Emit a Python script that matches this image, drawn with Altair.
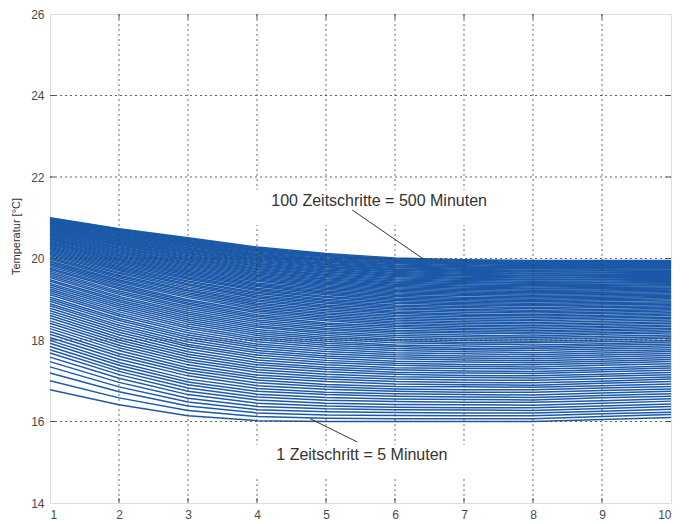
import altair as alt
import pandas as pd

# Node positions along the x axis and the simulated time steps (1 step = 5 min)
positions = [1, 2, 3, 4, 5, 6, 7, 8, 9, 10]
steps = list(range(1, 101))

# Temperature [°C] at each node, one value per time step (step 1 ... step 100)
t_x1 = [16.78, 17.00, 17.19, 17.34, 17.47, 17.58, 17.68, 17.76, 17.84, 17.92,
        17.99, 18.06, 18.14, 18.21, 18.28, 18.34, 18.41, 18.47, 18.54, 18.60,
        18.66, 18.72, 18.78, 18.84, 18.89, 18.95, 19.00, 19.05, 19.11, 19.16,
        19.21, 19.25, 19.30, 19.35, 19.39, 19.44, 19.48, 19.53, 19.57, 19.61,
        19.65, 19.69, 19.73, 19.76, 19.80, 19.84, 19.87, 19.91, 19.94, 19.98,
        20.01, 20.04, 20.07, 20.10, 20.13, 20.16, 20.19, 20.22, 20.25, 20.27,
        20.30, 20.33, 20.35, 20.38, 20.40, 20.42, 20.45, 20.47, 20.49, 20.51,
        20.54, 20.56, 20.58, 20.60, 20.62, 20.64, 20.66, 20.68, 20.69, 20.71,
        20.73, 20.75, 20.76, 20.78, 20.80, 20.81, 20.83, 20.84, 20.86, 20.87,
        20.89, 20.90, 20.91, 20.93, 20.94, 20.95, 20.96, 20.98, 20.99, 21.00]
t_x2 = [16.41, 16.58, 16.73, 16.85, 16.96, 17.06, 17.15, 17.23, 17.30, 17.38,
        17.45, 17.53, 17.60, 17.67, 17.74, 17.81, 17.87, 17.94, 18.00, 18.06,
        18.13, 18.19, 18.25, 18.31, 18.36, 18.42, 18.48, 18.53, 18.59, 18.64,
        18.69, 18.74, 18.79, 18.84, 18.89, 18.94, 18.98, 19.03, 19.07, 19.12,
        19.16, 19.20, 19.25, 19.29, 19.33, 19.37, 19.41, 19.45, 19.48, 19.52,
        19.56, 19.59, 19.63, 19.66, 19.70, 19.73, 19.76, 19.79, 19.82, 19.86,
        19.89, 19.92, 19.95, 19.97, 20.00, 20.03, 20.06, 20.08, 20.11, 20.14,
        20.16, 20.19, 20.21, 20.24, 20.26, 20.28, 20.31, 20.33, 20.35, 20.37,
        20.39, 20.41, 20.43, 20.45, 20.47, 20.49, 20.51, 20.53, 20.55, 20.57,
        20.59, 20.60, 20.62, 20.64, 20.65, 20.67, 20.69, 20.70, 20.72, 20.73]
t_x3 = [16.14, 16.27, 16.38, 16.48, 16.57, 16.66, 16.74, 16.82, 16.90, 16.97,
        17.04, 17.12, 17.19, 17.26, 17.32, 17.39, 17.46, 17.52, 17.59, 17.65,
        17.71, 17.78, 17.84, 17.89, 17.95, 18.01, 18.07, 18.12, 18.18, 18.23,
        18.29, 18.34, 18.39, 18.44, 18.49, 18.54, 18.59, 18.64, 18.68, 18.73,
        18.78, 18.82, 18.87, 18.91, 18.95, 18.99, 19.04, 19.08, 19.12, 19.16,
        19.20, 19.23, 19.27, 19.31, 19.35, 19.38, 19.42, 19.45, 19.49, 19.52,
        19.55, 19.59, 19.62, 19.65, 19.68, 19.71, 19.74, 19.77, 19.80, 19.83,
        19.86, 19.88, 19.91, 19.94, 19.97, 19.99, 20.02, 20.04, 20.07, 20.09,
        20.12, 20.14, 20.16, 20.19, 20.21, 20.23, 20.25, 20.27, 20.30, 20.32,
        20.34, 20.36, 20.38, 20.40, 20.42, 20.43, 20.45, 20.47, 20.49, 20.51]
t_x4 = [16.02, 16.12, 16.21, 16.29, 16.37, 16.45, 16.53, 16.60, 16.67, 16.74,
        16.81, 16.88, 16.95, 17.02, 17.08, 17.14, 17.21, 17.27, 17.33, 17.39,
        17.45, 17.51, 17.57, 17.63, 17.69, 17.74, 17.80, 17.85, 17.90, 17.96,
        18.01, 18.06, 18.11, 18.16, 18.21, 18.26, 18.31, 18.35, 18.40, 18.45,
        18.49, 18.54, 18.58, 18.62, 18.67, 18.71, 18.75, 18.79, 18.83, 18.87,
        18.91, 18.95, 18.99, 19.03, 19.06, 19.10, 19.14, 19.17, 19.21, 19.24,
        19.27, 19.31, 19.34, 19.37, 19.40, 19.44, 19.47, 19.50, 19.53, 19.56,
        19.59, 19.62, 19.65, 19.67, 19.70, 19.73, 19.75, 19.78, 19.81, 19.83,
        19.86, 19.88, 19.91, 19.93, 19.96, 19.98, 20.00, 20.03, 20.05, 20.07,
        20.09, 20.11, 20.13, 20.16, 20.18, 20.20, 20.22, 20.24, 20.26, 20.28]
t_x5 = [16.00, 16.08, 16.16, 16.24, 16.31, 16.38, 16.45, 16.52, 16.59, 16.66,
        16.72, 16.79, 16.85, 16.91, 16.98, 17.04, 17.10, 17.16, 17.22, 17.28,
        17.33, 17.39, 17.45, 17.50, 17.56, 17.61, 17.66, 17.72, 17.77, 17.82,
        17.87, 17.92, 17.97, 18.02, 18.06, 18.11, 18.16, 18.20, 18.25, 18.29,
        18.34, 18.38, 18.42, 18.47, 18.51, 18.55, 18.59, 18.63, 18.67, 18.71,
        18.75, 18.79, 18.82, 18.86, 18.90, 18.93, 18.97, 19.00, 19.04, 19.07,
        19.11, 19.14, 19.17, 19.20, 19.24, 19.27, 19.30, 19.33, 19.36, 19.39,
        19.42, 19.45, 19.48, 19.50, 19.53, 19.56, 19.59, 19.61, 19.64, 19.67,
        19.69, 19.72, 19.74, 19.77, 19.79, 19.81, 19.84, 19.86, 19.88, 19.91,
        19.93, 19.95, 19.97, 19.99, 20.02, 20.04, 20.06, 20.08, 20.10, 20.12]
t_x6 = [16.00, 16.07, 16.15, 16.22, 16.29, 16.35, 16.42, 16.49, 16.55, 16.62,
        16.68, 16.74, 16.80, 16.86, 16.92, 16.98, 17.04, 17.10, 17.16, 17.21,
        17.27, 17.32, 17.38, 17.43, 17.48, 17.54, 17.59, 17.64, 17.69, 17.74,
        17.79, 17.84, 17.88, 17.93, 17.98, 18.02, 18.07, 18.11, 18.16, 18.20,
        18.24, 18.29, 18.33, 18.37, 18.41, 18.45, 18.49, 18.53, 18.57, 18.61,
        18.65, 18.68, 18.72, 18.76, 18.79, 18.83, 18.86, 18.90, 18.93, 18.97,
        19.00, 19.03, 19.07, 19.10, 19.13, 19.16, 19.19, 19.22, 19.25, 19.28,
        19.31, 19.34, 19.37, 19.40, 19.42, 19.45, 19.48, 19.50, 19.53, 19.56,
        19.58, 19.61, 19.63, 19.66, 19.68, 19.71, 19.73, 19.75, 19.78, 19.80,
        19.82, 19.84, 19.87, 19.89, 19.91, 19.93, 19.95, 19.97, 19.99, 20.01]
t_x7 = [16.00, 16.07, 16.14, 16.21, 16.28, 16.34, 16.41, 16.47, 16.54, 16.60,
        16.66, 16.72, 16.78, 16.85, 16.90, 16.96, 17.02, 17.08, 17.13, 17.19,
        17.24, 17.30, 17.35, 17.40, 17.46, 17.51, 17.56, 17.61, 17.66, 17.71,
        17.76, 17.80, 17.85, 17.90, 17.94, 17.99, 18.03, 18.08, 18.12, 18.17,
        18.21, 18.25, 18.29, 18.33, 18.37, 18.41, 18.45, 18.49, 18.53, 18.57,
        18.61, 18.64, 18.68, 18.72, 18.75, 18.79, 18.82, 18.86, 18.89, 18.92,
        18.96, 18.99, 19.02, 19.05, 19.09, 19.12, 19.15, 19.18, 19.21, 19.24,
        19.27, 19.30, 19.32, 19.35, 19.38, 19.41, 19.43, 19.46, 19.49, 19.51,
        19.54, 19.57, 19.59, 19.61, 19.64, 19.66, 19.69, 19.71, 19.73, 19.76,
        19.78, 19.80, 19.82, 19.85, 19.87, 19.89, 19.91, 19.93, 19.95, 19.97]
t_x8 = [16.00, 16.07, 16.14, 16.21, 16.27, 16.34, 16.40, 16.47, 16.53, 16.59,
        16.65, 16.72, 16.78, 16.84, 16.89, 16.95, 17.01, 17.07, 17.12, 17.18,
        17.23, 17.29, 17.34, 17.39, 17.44, 17.49, 17.54, 17.59, 17.64, 17.69,
        17.74, 17.79, 17.83, 17.88, 17.93, 17.97, 18.02, 18.06, 18.10, 18.15,
        18.19, 18.23, 18.27, 18.31, 18.35, 18.39, 18.43, 18.47, 18.51, 18.55,
        18.59, 18.62, 18.66, 18.70, 18.73, 18.77, 18.80, 18.84, 18.87, 18.90,
        18.94, 18.97, 19.00, 19.03, 19.06, 19.10, 19.13, 19.16, 19.19, 19.22,
        19.25, 19.27, 19.30, 19.33, 19.36, 19.39, 19.41, 19.44, 19.47, 19.49,
        19.52, 19.54, 19.57, 19.59, 19.62, 19.64, 19.67, 19.69, 19.71, 19.74,
        19.76, 19.78, 19.80, 19.82, 19.85, 19.87, 19.89, 19.91, 19.93, 19.95]
t_x9 = [16.05, 16.12, 16.19, 16.25, 16.32, 16.38, 16.45, 16.51, 16.58, 16.64,
        16.70, 16.76, 16.82, 16.88, 16.94, 16.99, 17.05, 17.11, 17.16, 17.22,
        17.27, 17.32, 17.38, 17.43, 17.48, 17.53, 17.58, 17.63, 17.68, 17.73,
        17.78, 17.82, 17.87, 17.91, 17.96, 18.00, 18.05, 18.09, 18.14, 18.18,
        18.22, 18.26, 18.30, 18.34, 18.38, 18.42, 18.46, 18.50, 18.54, 18.57,
        18.61, 18.65, 18.68, 18.72, 18.75, 18.79, 18.82, 18.86, 18.89, 18.92,
        18.96, 18.99, 19.02, 19.05, 19.08, 19.11, 19.14, 19.17, 19.20, 19.23,
        19.26, 19.29, 19.32, 19.34, 19.37, 19.40, 19.42, 19.45, 19.48, 19.50,
        19.53, 19.55, 19.58, 19.60, 19.62, 19.65, 19.67, 19.70, 19.72, 19.74,
        19.76, 19.78, 19.81, 19.83, 19.85, 19.87, 19.89, 19.91, 19.93, 19.95]
t_x10 = [16.10, 16.17, 16.23, 16.30, 16.37, 16.43, 16.50, 16.56, 16.62, 16.68,
         16.74, 16.80, 16.86, 16.92, 16.98, 17.04, 17.09, 17.15, 17.20, 17.26,
         17.31, 17.36, 17.42, 17.47, 17.52, 17.57, 17.62, 17.67, 17.72, 17.76,
         17.81, 17.86, 17.90, 17.95, 17.99, 18.04, 18.08, 18.12, 18.17, 18.21,
         18.25, 18.29, 18.33, 18.37, 18.41, 18.45, 18.49, 18.53, 18.56, 18.60,
         18.64, 18.67, 18.71, 18.74, 18.78, 18.81, 18.84, 18.88, 18.91, 18.94,
         18.98, 19.01, 19.04, 19.07, 19.10, 19.13, 19.16, 19.19, 19.22, 19.25,
         19.27, 19.30, 19.33, 19.36, 19.38, 19.41, 19.44, 19.46, 19.49, 19.51,
         19.54, 19.56, 19.59, 19.61, 19.63, 19.66, 19.68, 19.70, 19.72, 19.75,
         19.77, 19.79, 19.81, 19.83, 19.85, 19.87, 19.89, 19.91, 19.93, 19.95]

# Axis tick values
x_ticks = [1, 2, 3, 4, 5, 6, 7, 8, 9, 10]
y_ticks = [14, 16, 18, 20, 22, 24, 26]

# Long-form table: one row per (time step, node)
columns = [t_x1, t_x2, t_x3, t_x4, t_x5, t_x6, t_x7, t_x8, t_x9, t_x10]
records = []
for i, step in enumerate(steps):
    for pos, col in zip(positions, columns):
        records.append({"step": step, "x": pos, "temp": col[i]})
df = pd.DataFrame(records)

W, H = 621, 489
LINE_BLUE = "#1c59a8"
GRID = "#3c3c3c"
FONT = "Liberation Sans"

x_scale = alt.Scale(domain=[1, 10], nice=False, zero=False)
y_scale = alt.Scale(domain=[14, 26], nice=False, zero=False)
x_axis = alt.Axis(values=x_ticks, grid=False, ticks=False, domain=False,
                  labelPadding=6, labelFontSize=12, labelColor="#4a4a4a",
                  labelFont=FONT, title=None)
y_axis = alt.Axis(values=y_ticks, grid=False, ticks=False, domain=False,
                  labelPadding=6, labelFontSize=12, labelColor="#4a4a4a",
                  labelFont=FONT, title="Temperatur [°C]", titleFont=FONT,
                  titleFontSize=11, titleFontWeight="normal", titleColor="#303030",
                  titleAngle=270, titleAlign="center", titleBaseline="middle",
                  titleX=-34, titleY=222)

X = lambda f: alt.X(f, type="quantitative", scale=x_scale, axis=x_axis)
Y = lambda f: alt.Y(f, type="quantitative", scale=y_scale, axis=y_axis)

# One profile line per time step
lines = alt.Chart(df).mark_line(color=LINE_BLUE, strokeWidth=1.5).encode(
    x=X("x"), y=Y("temp"), detail="step:N"
)

# Dotted grid, drawn above the profiles
grid_x = alt.Chart(pd.DataFrame({"gx": x_ticks[1:-1]})).mark_rule(
    color=GRID, strokeWidth=1, strokeDash=[2, 3], opacity=0.75
).encode(x=X("gx"), y=alt.value(0), y2=alt.value(H))
grid_y = alt.Chart(pd.DataFrame({"gy": y_ticks[1:-1]})).mark_rule(
    color=GRID, strokeWidth=1, strokeDash=[2, 3], opacity=0.8
).encode(y=Y("gy"), x=alt.value(0), x2=alt.value(W))

# Inward tick marks on all four sides
tick_len = 5
ticks_bottom = alt.Chart(pd.DataFrame({"tx": x_ticks[1:-1]})).mark_rule(
    color="#505050").encode(x=X("tx"), y=alt.value(H), y2=alt.value(H - tick_len))
ticks_top = alt.Chart(pd.DataFrame({"tx": x_ticks[1:-1]})).mark_rule(
    color="#505050").encode(x=X("tx"), y=alt.value(0), y2=alt.value(tick_len))
ticks_left = alt.Chart(pd.DataFrame({"ty": y_ticks[1:-1]})).mark_rule(
    color="#505050").encode(y=Y("ty"), x=alt.value(0), x2=alt.value(tick_len))
ticks_right = alt.Chart(pd.DataFrame({"ty": y_ticks[1:-1]})).mark_rule(
    color="#505050").encode(y=Y("ty"), x=alt.value(W), x2=alt.value(W - tick_len))

# Annotations: white label boxes, leader lines and texts
labels = pd.DataFrame({
    "text": ["100 Zeitschritte = 500 Minuten", "1 Zeitschritt = 5 Minuten"],
    "tx": [5.77, 5.52], "ty": [21.41, 15.19],
    "bx0": [3.88, 3.88], "bx1": [7.45, 7.12],
    "by0": [20.82, 14.65], "by1": [21.68, 15.43],
    "lx0": [5.38, 4.77], "ly0": [21.19, 16.07],
    "lx1": [6.41, 5.45], "ly1": [19.99, 15.50],
})
boxes = alt.Chart(labels).mark_rect(color="white").encode(
    x=X("bx0"), x2="bx1", y=Y("by0"), y2="by1"
)
leaders = alt.Chart(labels).mark_rule(color="#333333", strokeWidth=1).encode(
    x=X("lx0"), y=Y("ly0"), x2="lx1", y2="ly1"
)
texts = alt.Chart(labels).mark_text(
    font=FONT, fontSize=16, color="#333333", align="center", baseline="middle"
).encode(x=X("tx"), y=Y("ty"), text="text:N")

chart = alt.layer(
    lines, grid_x, grid_y, ticks_bottom, ticks_top, ticks_left, ticks_right,
    boxes, leaders, texts
).properties(
    width=W, height=H,
    autosize=alt.AutoSizeParams(type="none"),
    padding={"left": 50, "top": 14, "right": 21, "bottom": 21},
).configure_view(
    stroke="#7a7a7a", strokeWidth=1
).configure(background="white")

chart.save("out.html", embed_options={"renderer": "svg", "actions": False})
